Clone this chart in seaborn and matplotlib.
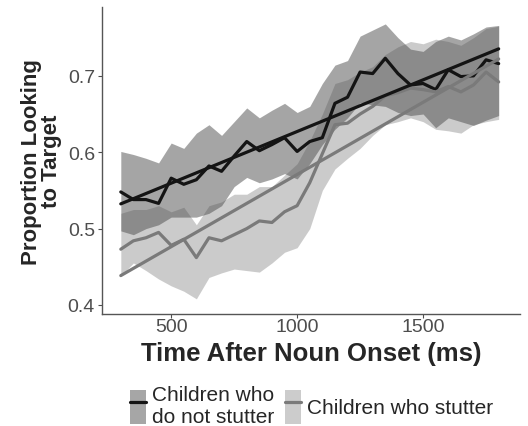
import numpy as np
import pandas as pd
import seaborn as sns
import matplotlib.pyplot as plt
from matplotlib.patches import Patch
from matplotlib.lines import Line2D

# time bins (ms after noun onset)
time_ms = list(range(300, 1801, 50))

# children who do not stutter
ns_mean = [0.548, 0.538, 0.538, 0.533, 0.566, 0.558, 0.564, 0.582, 0.575, 0.595,
           0.614, 0.602, 0.610, 0.619, 0.601, 0.614, 0.619, 0.664, 0.672, 0.705,
           0.703, 0.723, 0.703, 0.688, 0.690, 0.682, 0.708, 0.699, 0.700, 0.721, 0.716]
ns_lower = [0.497, 0.492, 0.500, 0.505, 0.515, 0.515, 0.515, 0.520, 0.530, 0.555,
            0.567, 0.560, 0.565, 0.572, 0.565, 0.585, 0.610, 0.630, 0.645, 0.665,
            0.662, 0.660, 0.652, 0.648, 0.650, 0.632, 0.645, 0.640, 0.635, 0.642, 0.648]
ns_upper = [0.601, 0.597, 0.592, 0.586, 0.612, 0.605, 0.625, 0.636, 0.622, 0.640,
            0.658, 0.645, 0.655, 0.664, 0.652, 0.660, 0.690, 0.714, 0.720, 0.752,
            0.760, 0.768, 0.750, 0.735, 0.732, 0.745, 0.752, 0.747, 0.755, 0.764, 0.766]

# children who stutter
s_mean = [0.473, 0.484, 0.488, 0.495, 0.478, 0.486, 0.462, 0.488, 0.484, 0.492,
          0.500, 0.510, 0.508, 0.522, 0.530, 0.560, 0.598, 0.636, 0.638, 0.650,
          0.660, 0.674, 0.678, 0.684, 0.682, 0.679, 0.686, 0.679, 0.688, 0.705, 0.692]
s_lower = [0.438, 0.455, 0.445, 0.434, 0.425, 0.418, 0.408, 0.436, 0.442, 0.447,
           0.445, 0.443, 0.455, 0.469, 0.475, 0.500, 0.550, 0.578, 0.592, 0.605,
           0.622, 0.636, 0.640, 0.645, 0.640, 0.630, 0.628, 0.625, 0.636, 0.640, 0.643]
s_upper = [0.520, 0.525, 0.525, 0.530, 0.522, 0.528, 0.505, 0.530, 0.535, 0.545,
           0.545, 0.555, 0.555, 0.570, 0.585, 0.615, 0.650, 0.690, 0.695, 0.705,
           0.712, 0.728, 0.738, 0.745, 0.742, 0.748, 0.745, 0.740, 0.750, 0.762, 0.765]

groups = ['Children who\ndo not stutter', 'Children who stutter']
line_colors = ['#141414', '#7a7a7a']
band_colors = ['#4d4d4d', '#999999']


def main():
    sns.set_style('white')
    plt.rcParams['font.family'] = ['Liberation Sans', 'DejaVu Sans']

    df = pd.DataFrame({
        'Time': time_ms * 2,
        'Proportion': ns_mean + s_mean,
        'Group': [groups[0]] * len(time_ms) + [groups[1]] * len(time_ms),
    })

    fig = plt.figure(figsize=(5.28, 4.27), dpi=100)
    ax = fig.add_axes([0.193, 0.262, 0.792, 0.719])

    ax.fill_between(time_ms, s_lower, s_upper, color=band_colors[1], alpha=0.5, lw=0)
    ax.fill_between(time_ms, ns_lower, ns_upper, color=band_colors[0], alpha=0.5, lw=0)

    sns.lineplot(data=df, x='Time', y='Proportion', hue='Group', palette=line_colors,
                 lw=2.3, legend=False, ax=ax)
    for g, c in zip(groups, line_colors):
        sns.regplot(data=df[df['Group'] == g], x='Time', y='Proportion', scatter=False,
                    ci=None, color=c, line_kws={'lw': 2.3}, ax=ax)

    ax.set_xlim(225, 1885)
    ax.set_ylim(0.388, 0.79)
    ax.set_xticks([500, 1000, 1500])
    ax.set_yticks([0.4, 0.5, 0.6, 0.7])
    ax.set_yticklabels(['0.4', '0.5', '0.6', '0.7'])
    ax.tick_params(axis='both', colors='#4d4d4d', labelsize=14, length=3, width=0.8,
                   pad=2, left=True, bottom=True)
    ax.tick_params(axis='x', pad=0)
    for side in ['top', 'right']:
        ax.spines[side].set_visible(False)
    for side in ['left', 'bottom']:
        ax.spines[side].set_color('#555555')
        ax.spines[side].set_linewidth(1.0)

    ax.set_xlabel('Time After Noun Onset (ms)', fontsize=18.5, fontweight='bold', labelpad=4)
    ax.set_ylabel('Proportion Looking\nto Target', fontsize=16, fontweight='bold',
                  labelpad=4, linespacing=0.95)

    handles = [(Patch(facecolor='#a6a6a6', edgecolor='none'),
                Line2D([], [], color=line_colors[0], lw=2.3)),
               (Patch(facecolor='#cccccc', edgecolor='none'),
                Line2D([], [], color=line_colors[1], lw=2.3))]
    fig.legend(handles, groups, loc='lower center', bbox_to_anchor=(0.59, -0.035), ncol=2,
               frameon=False, fontsize=15, handlelength=0.78, handleheight=2.1,
               handletextpad=0.3, columnspacing=0.5, labelspacing=0.2,
               borderpad=0.2)

    fig.savefig('out.png', dpi=100)


if __name__ == '__main__':
    main()
